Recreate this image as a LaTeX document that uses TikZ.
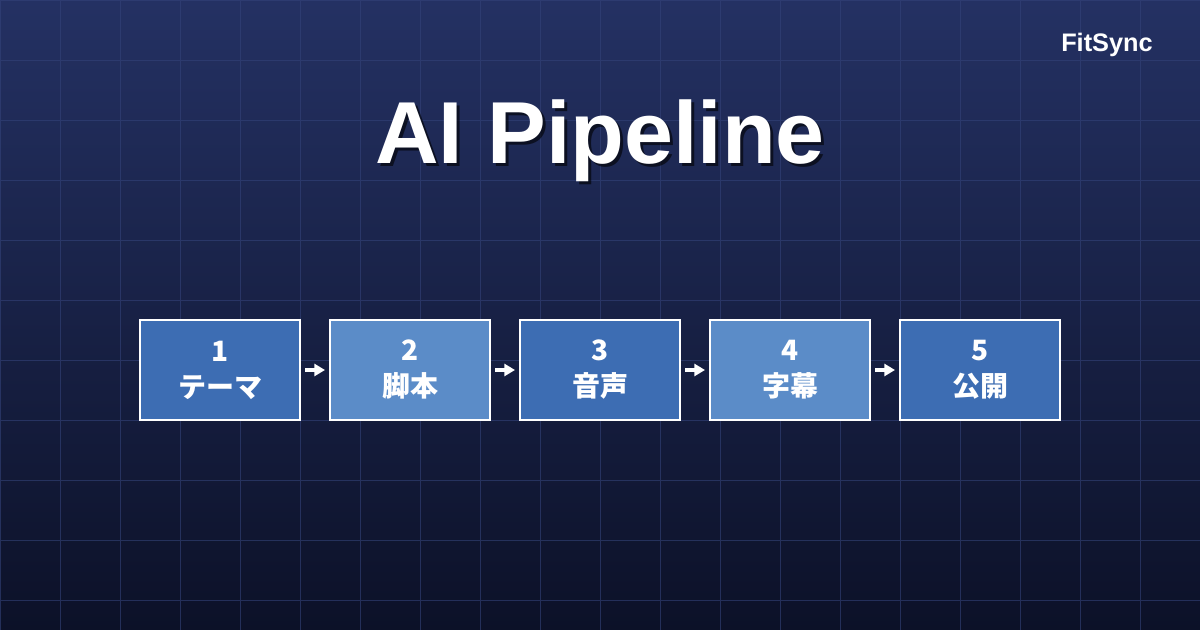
\documentclass[tikz,border=0pt]{standalone}
\usepackage{fontspec}
\setmainfont{Noto Sans CJK JP}
\newfontfamily\latin{Liberation Sans}
\usetikzlibrary{arrows.meta}
\definecolor{bgtop}{HTML}{243163}
\definecolor{bgbot}{HTML}{0C1128}
\definecolor{gridc}{HTML}{34437A}
\definecolor{boxa}{HTML}{3D6DB3}
\definecolor{boxb}{HTML}{5B8CC8}
\tikzset{
 stepbox/.style={draw=white,line width=1.5pt,minimum width=120pt,minimum height=75pt,inner sep=0pt,align=center,text=white,font=\fontsize{21}{27}\selectfont\bfseries},
 link/.style={draw=white,line width=3pt,-{Triangle[length=8pt,width=9pt]}}
}
\begin{document}
\begin{tikzpicture}[x=0.75pt,y=-0.75pt]
\useasboundingbox (0,0) rectangle (1200,630);
\shade[top color=bgtop,bottom color=bgbot] (0,0) rectangle (1200,630);
\draw[gridc,line width=0.5pt,opacity=0.6] (0,0) grid[step=45pt] (1200,630);
\node[text=black,opacity=0.6,font=\latin\fontsize{66}{70}\selectfont\bfseries] at (603,144) {AI Pipeline};
\node (title)[text=white,font=\latin\fontsize{66}{70}\selectfont\bfseries] at (600,141) {AI Pipeline};
\node (brand)[text=white,font=\latin\fontsize{19}{22}\selectfont\bfseries] at (1107,45) {FitSync};
\node (s1)[stepbox,fill=boxa] at (220,370) {1\\テーマ};
\node (s2)[stepbox,fill=boxb] at (410,370) {2\\脚本};
\node (s3)[stepbox,fill=boxa] at (600,370) {3\\音声};
\node (s4)[stepbox,fill=boxb] at (790,370) {4\\字幕};
\node (s5)[stepbox,fill=boxa] at (980,370) {5\\公開};
\foreach \a/\b in {s1/s2,s2/s3,s3/s4,s4/s5}
  \draw[link] ([xshift=3pt]\a.east) -- ([xshift=-3pt]\b.west);
\end{tikzpicture}
\end{document}
